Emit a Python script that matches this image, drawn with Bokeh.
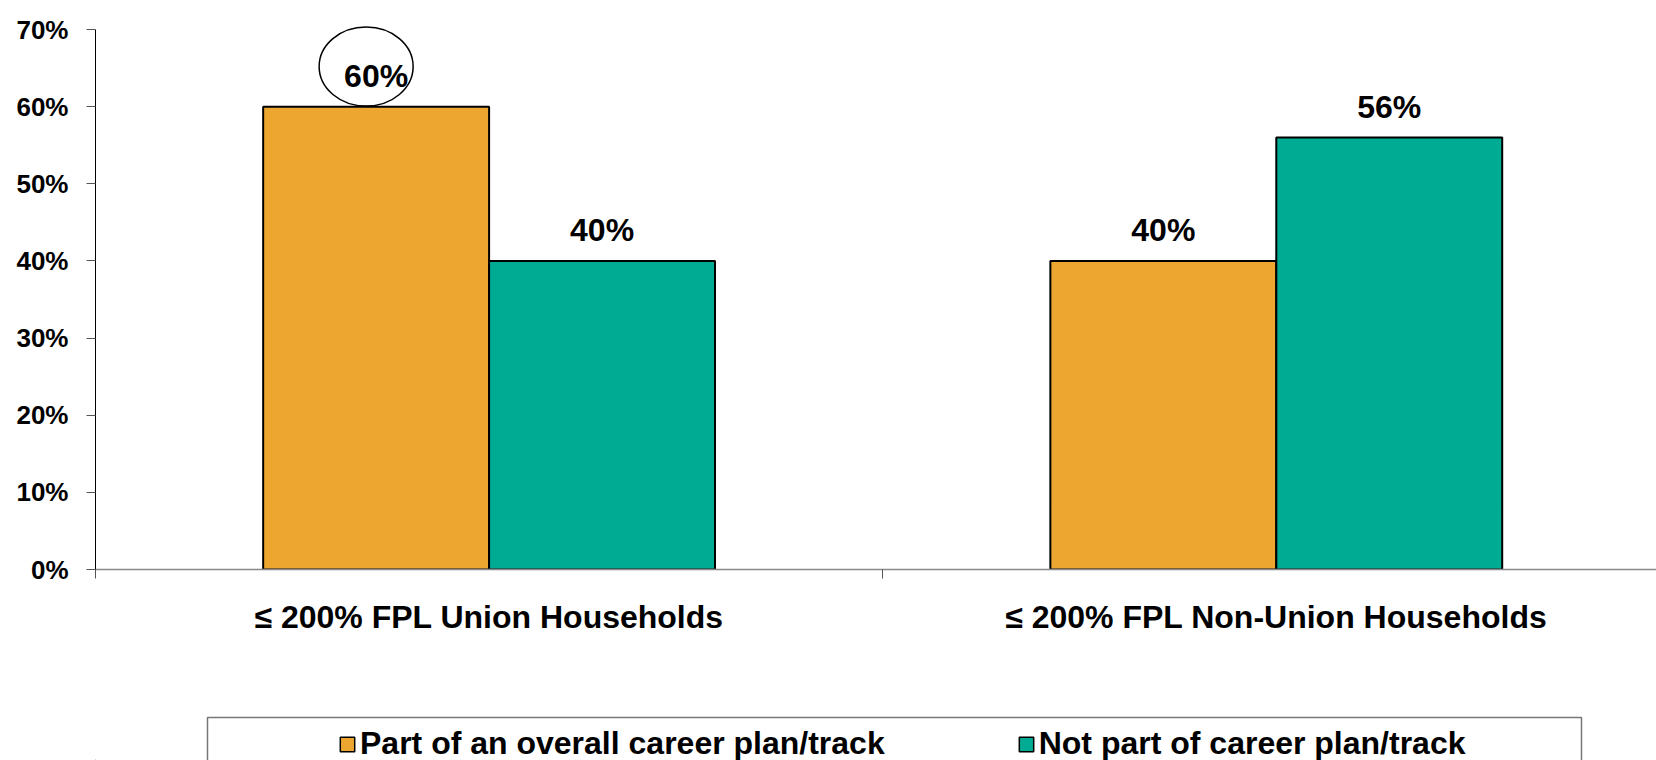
from bokeh.plotting import figure
from bokeh.layouts import column
from bokeh.models import (ColumnDataSource, Range1d, FixedTicker, Legend, LegendItem)
from bokeh.core.properties import value
from bokeh.embed import file_html
from bokeh.resources import INLINE

categories = ["≤ 200% FPL Union Households", "≤ 200% FPL Non-Union Households"]
series_names = ["Part of an overall career plan/track", "Not part of career plan/track"]
part_of_plan = [60, 40]
not_part_of_plan = [40, 56]
y_ticks = [0, 10, 20, 30, 40, 50, 60, 70]
colors = ["#EDA731", "#00AB94"]

FONT = "Liberation Sans"
BAR_W = 0.287
W = 1656
H_MAIN = 700
H_LEG = 60
LEFT = 95

p = figure(width=W, height=H_MAIN, output_backend="svg", toolbar_location=None,
           x_range=Range1d(0, 1.983), y_range=Range1d(0, 70.65),
           min_border_left=LEFT, min_border_right=0, min_border_top=24, min_border_bottom=131)
p.outline_line_color = None
p.xgrid.visible = False
p.ygrid.visible = False

centers = [i + 0.5 for i in range(len(categories))]
series = [part_of_plan, not_part_of_plan]
offsets = [-BAR_W / 2, BAR_W / 2]
for vals, off, col in zip(series, offsets, colors):
    src = ColumnDataSource(dict(x=[c + off for c in centers], top=vals,
                                label=[f"{v}%" for v in vals]))
    p.vbar(x="x", top="top", width=BAR_W, source=src, fill_color=col,
           line_color="black", line_width=2)
    p.text(x="x", y="top", text="label", source=src, y_offset=-31,
           text_align="center", text_baseline="alphabetic",
           text_font=value(FONT), text_font_style="bold", text_font_size="32px",
           text_color="black")

# highlight ellipse around the largest value of the first group
i_max = part_of_plan.index(max(part_of_plan))
p.ellipse(x=[centers[i_max] + offsets[0] - 0.0127], y=[part_of_plan[i_max] + 5.2],
          width=94, height=79, width_units="screen", height_units="screen",
          fill_color=None, line_color="black", line_width=1.5)

# y axis
yax = p.yaxis[0]
yax.ticker = FixedTicker(ticks=y_ticks)
yax.bounds = (y_ticks[0], y_ticks[-1])
yax.major_label_overrides = {t: f"{t}%" for t in y_ticks}
yax.major_label_text_font = FONT
yax.major_label_text_font_style = "bold"
yax.major_label_text_font_size = "26px"
yax.major_label_text_color = "black"
yax.major_label_standoff = 18
yax.axis_line_color = "black"
yax.axis_line_width = 1
yax.major_tick_line_color = "#555555"
yax.major_tick_out = 9
yax.major_tick_in = 0
yax.minor_tick_line_color = None

# x axis
xax = p.xaxis[0]
xax.ticker = FixedTicker(ticks=centers, minor_ticks=[0, 1, 2])
xax.major_label_overrides = {c: cat for c, cat in zip(centers, categories)}
xax.major_label_text_font = FONT
xax.major_label_text_font_style = "bold"
xax.major_label_text_font_size = "32px"
xax.major_label_text_color = "black"
xax.major_label_standoff = 20
xax.major_tick_line_color = None
xax.major_tick_out = 9
xax.minor_tick_out = 9
xax.minor_tick_in = 0
xax.minor_tick_line_color = "#555555"
xax.axis_line_color = "#888888"
xax.axis_line_width = 1.5

# legend strip (frame is aligned with the main frame; data units = page pixels)
lg = figure(width=W, height=H_LEG, output_backend="svg", toolbar_location=None,
            x_range=Range1d(LEFT, W), y_range=Range1d(0, H_LEG),
            x_axis_type=None, y_axis_type=None, min_border=0)
lg.outline_line_color = None
lg.xgrid.visible = False
lg.ygrid.visible = False
lg.quad(left=[207], right=[1581], top=[43], bottom=[-30],
        fill_color=None, line_color="#777777", line_width=1.5)
# renderers that only supply legend swatches (placed outside the visible area)
dummies = [lg.vbar(x=[-1000], top=[-500], bottom=[-500], width=1, fill_color=c,
                   line_color="black", line_width=1.5)
           for c in colors]
legend = Legend(items=[LegendItem(label=n, renderers=[r]) for n, r in zip(series_names, dummies)],
                orientation="horizontal", location=(338 - LEFT, -2),
                glyph_width=18, glyph_height=18, label_standoff=4, spacing=132,
                padding=0, margin=0, border_line_color=None, background_fill_alpha=0,
                label_text_font=FONT, label_text_font_style="bold",
                label_text_font_size="32px", label_text_color="black")
lg.add_layout(legend, "center")

layout = column(p, lg, spacing=0)
open("out.html", "w").write(file_html(layout, INLINE))
